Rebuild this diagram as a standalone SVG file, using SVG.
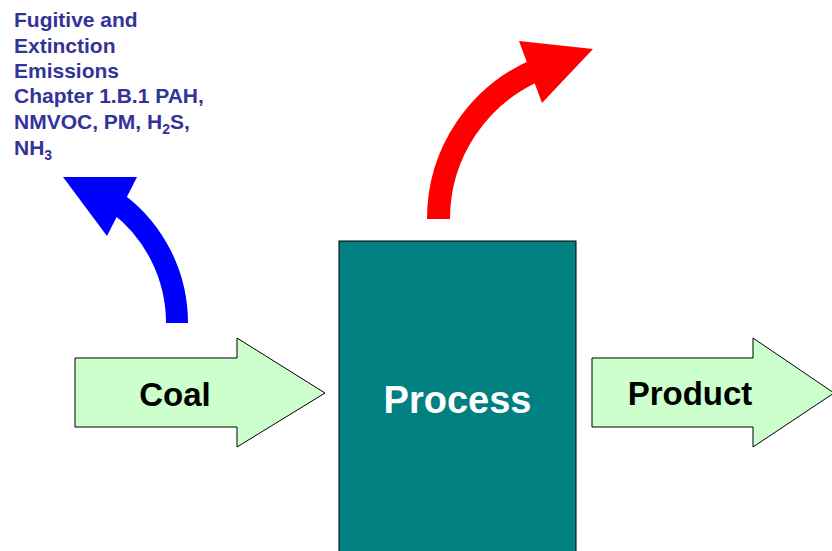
<svg xmlns="http://www.w3.org/2000/svg" width="832" height="551" viewBox="0 0 832 551">
<style>
.lbl{font-family:"Liberation Sans",Arial,sans-serif;font-weight:bold}
.blk{fill:#CCFFCC;stroke:#000;stroke-width:1}
.note{font-size:21px;fill:#333399}
</style>
<rect width="832" height="551" fill="#fff"/>
<g id="note">
<text class="lbl note" x="14" y="27">Fugitive and</text>
<text class="lbl note" x="14" y="53">Extinction</text>
<text class="lbl note" x="14" y="78">Emissions</text>
<text class="lbl note" x="14" y="103">Chapter 1.B.1 PAH,</text>
<text class="lbl note" x="14" y="129">NMVOC, PM, H<tspan font-size="14" dy="5">2</tspan><tspan dy="-5">S,</tspan></text>
<text class="lbl note" x="14" y="155">NH<tspan font-size="14" dy="5">3</tspan></text>
</g>
<g id="coal">
<polygon class="blk" points="75,358 237,358 237,338 325,393 237,447 237,427 75,427"/>
<text class="lbl" x="175" y="406" font-size="33" text-anchor="middle" fill="#000">Coal</text>
</g>
<g id="process">
<rect x="339" y="241" width="237" height="320" fill="#008080" stroke="#000" stroke-width="1"/>
<text class="lbl" x="457.5" y="413" font-size="38" text-anchor="middle" fill="#fff">Process</text>
</g>
<g id="product">
<polygon class="blk" points="592,358 753,358 753,338 834,393 753,447 753,427 592,427"/>
<text class="lbl" x="690" y="405" font-size="33" text-anchor="middle" fill="#000">Product</text>
</g>
<g id="connectors">
<g id="fugitive-arrow">
<path d="M177,323 A150,150 0 0 0 117.3,203.2" fill="none" stroke="#0000FF" stroke-width="22"/>
<polygon points="63,177 137,177 107,236" fill="#0000FF"/>
</g>
<g id="emission-arrow">
<path d="M438.5,219 A162.2,162.2 0 0 1 539.9,68.6" fill="none" stroke="#FF0000" stroke-width="23"/>
<polygon points="519,41 593,49 542,103" fill="#FF0000"/>
</g>
</g>
</svg>
